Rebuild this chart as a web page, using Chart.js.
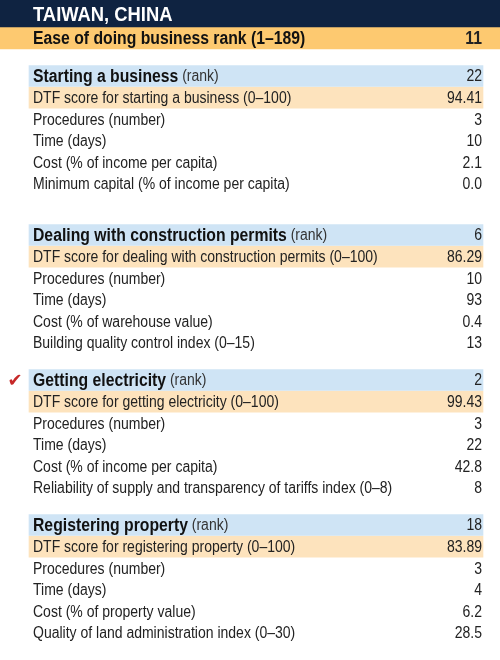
<!DOCTYPE html>
<html><head><meta charset="utf-8">
<script src="https://cdn.jsdelivr.net/npm/chart.js@4"></script>
<style>html,body{margin:0;padding:0;background:#fff}#w{width:500px;height:660px}</style>
</head><body><div id="w"><canvas id="c"></canvas></div>
<script>
const title = "TAIWAN, CHINA";
const overallLabel = "Ease of doing business rank (1–189)";
const overallValue = "11";
const sectionNames = ["Starting a business", "Dealing with construction permits", "Getting electricity", "Registering property"];
const sectionRanks = ["22", "6", "2", "18"];
const dtfLabels = ["DTF score for starting a business (0–100)", "DTF score for dealing with construction permits (0–100)", "DTF score for getting electricity (0–100)", "DTF score for registering property (0–100)"];
const dtfValues = ["94.41", "86.29", "99.43", "83.89"];
const indicatorLabels = [
  ["Procedures (number)", "Time (days)", "Cost (% of income per capita)", "Minimum capital (% of income per capita)"],
  ["Procedures (number)", "Time (days)", "Cost (% of warehouse value)", "Building quality control index (0–15)"],
  ["Procedures (number)", "Time (days)", "Cost (% of income per capita)", "Reliability of supply and transparency of tariffs index (0–8)"],
  ["Procedures (number)", "Time (days)", "Cost (% of property value)", "Quality of land administration index (0–30)"]
];
const indicatorValues = [
  ["3", "10", "2.1", "0.0"],
  ["10", "93", "0.4", "13"],
  ["3", "22", "42.8", "8"],
  ["3", "4", "6.2", "28.5"]
];
const checkedSection = 2;

// layout
const sectionStart = [76, 235, 380, 525];
const step = 21.6;
const FONT = '"Liberation Sans", sans-serif';
const SQUEEZE = 0.875;

const rows = [];
rows.push({y:14, parts:[{t:title, b:true, s:21, c:'#fff'}], v:null});
rows.push({y:38, parts:[{t:overallLabel, b:true, s:18, c:'#111'}], v:overallValue, vb:true, vs:18});
sectionNames.forEach((n,i)=>{
  const y0 = sectionStart[i];
  rows.push({y:y0, parts:[{t:n, b:true, s:18, c:'#111'},{t:' (rank)', b:false, s:16, c:'#333'}], v:sectionRanks[i], vs:16, check:i===checkedSection});
  rows.push({y:y0+step, parts:[{t:dtfLabels[i], b:false, s:16, c:'#222'}], v:dtfValues[i], vs:16});
  indicatorLabels[i].forEach((l,j)=>rows.push({y:y0+step*(j+2), parts:[{t:l,b:false,s:16,c:'#222'}], v:indicatorValues[i][j], vs:16}));
});

const bands = [
  {y:13.5, x:[0,500], h:27, c:'#0f2341'},
  {y:38, x:[0,500], h:22, c:'#fdc970'}
];
sectionStart.forEach(y0=>{
  bands.push({y:y0, x:[29,483], h:21, c:'#cfe4f5'});
  bands.push({y:y0+step, x:[29,483], h:21, c:'#fde3bd'});
});

const datasets = bands.map(b=>({type:'bar', data:[{y:b.y, x:b.x}], backgroundColor:b.c, barThickness:b.h, borderWidth:0, grouped:false}));

const textPlugin = {
  id:'txt',
  afterDatasetsDraw(chart){
    const ctx = chart.ctx, xs = chart.scales.x, ys = chart.scales.y;
    rows.forEach(r=>{
      const py = ys.getPixelForValue(r.y) + 1;
      const lx = xs.getPixelForValue(33), rx = xs.getPixelForValue(482);
      ctx.save();
      ctx.textBaseline = 'middle';
      ctx.translate(lx, py); ctx.scale(SQUEEZE, 1);
      let px = 0;
      r.parts.forEach(p=>{
        ctx.font = (p.b?'bold ':'') + p.s + 'px ' + FONT;
        ctx.fillStyle = p.c; ctx.textAlign='left';
        ctx.fillText(p.t, px, 0);
        px += ctx.measureText(p.t).width;
      });
      ctx.restore();
      if (r.v!==null){
        ctx.save();
        ctx.textBaseline = 'middle';
        ctx.translate(rx, py); ctx.scale(SQUEEZE, 1);
        ctx.font = (r.vb?'bold ':'') + r.vs + 'px ' + FONT;
        ctx.fillStyle = '#222'; ctx.textAlign='right';
        ctx.fillText(r.v, 0, 0);
        ctx.restore();
      }
      if (r.check){
        ctx.save();
        ctx.textBaseline = 'middle';
        ctx.font = 'bold 18px "DejaVu Sans", sans-serif';
        ctx.fillStyle = '#c62828'; ctx.textAlign='center';
        ctx.fillText('✔', xs.getPixelForValue(15), py);
        ctx.restore();
      }
    });
  }
};

new Chart(document.getElementById('c'), {
  type:'bar',
  data:{datasets},
  options:{
    indexAxis:'y', responsive:true, maintainAspectRatio:false, animation:false,
    layout:{padding:0},
    plugins:{legend:{display:false}, tooltip:{enabled:false}},
    scales:{
      x:{type:'linear', min:0, max:500, display:false, offset:false},
      y:{type:'linear', min:0, max:660, reverse:true, display:false, offset:false}
    }
  },
  plugins:[textPlugin]
});
</script></body></html>
